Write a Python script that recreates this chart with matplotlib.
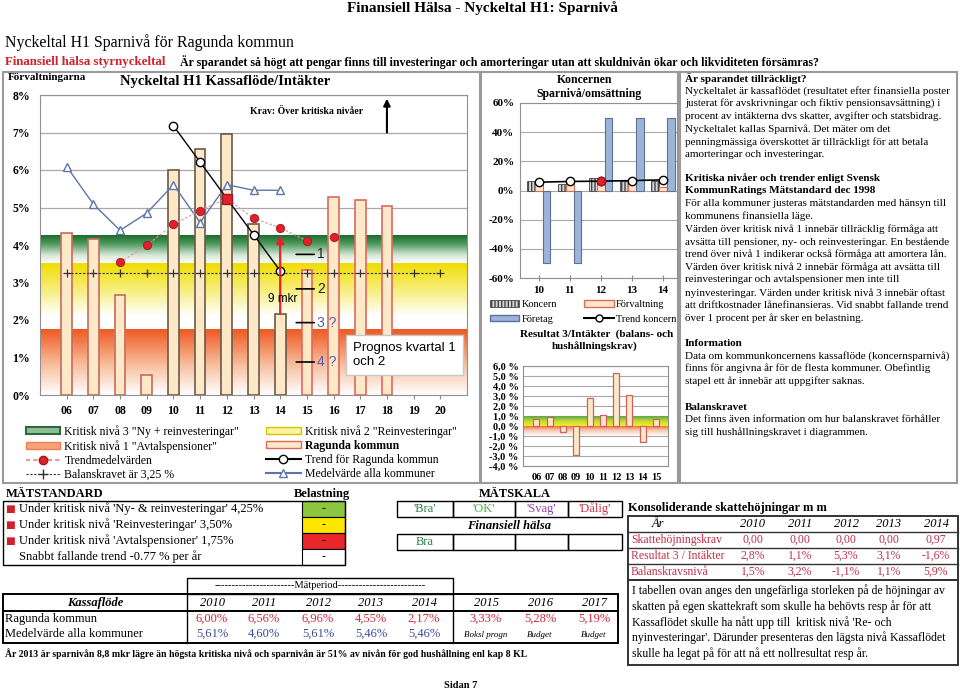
import numpy as np
import matplotlib
matplotlib.use("Agg")
import matplotlib.pyplot as plt
from matplotlib.patches import Rectangle, Patch
from matplotlib.lines import Line2D
from matplotlib.colors import LinearSegmentedColormap

plt.rcParams['font.family'] = ['Liberation Serif', 'DejaVu Sans']
SANS = ['Liberation Sans', 'DejaVu Sans']
W, H = 960, 692

# --- Förvaltningarna: Kassaflöde/Intäkter (%) ---
years = ['06', '07', '08', '09', '10', '11', '12', '13', '14', '15', '16', '17', '18', '19', '20']
ragunda_years = years[:13]
ragunda = [4.33, 4.15, 2.68, 0.53, 6.00, 6.56, 6.96, 4.55, 2.17, 3.33, 5.28, 5.19, 5.05]
ragunda_edge = ['#c86a5e'] * 4 + ['#6b5a48'] * 5 + ['#e0675e'] * 4

trendmed_years = ['08', '09', '10', '11', '12', '13', '14', '15']
trendmed = [3.54, 3.99, 4.55, 4.92, 5.24, 4.71, 4.46, 4.11]
trendmed_extra_year = '16'
trendmed_extra = 4.21
highlight_year = '12'

trend_rag_years = ['10', '11', '12', '13', '14']
trend_rag = [7.18, 6.21, 5.24, 4.28, 3.31]

medel_years = ['06', '07', '08', '09', '10', '11', '12', '13', '14']
medel = [6.09, 5.09, 4.39, 4.85, 5.61, 4.60, 5.61, 5.46, 5.46]

balanskrav = 3.25
niva3, niva2, niva1 = 4.25, 3.50, 1.75
gap_year = '14'

# --- Koncernen: Sparnivå/omsättning (%) ---
k_years = ['10', '11', '12', '13', '14']
koncern = [6.2, 4.5, 8.6, 6.3, 6.3]
forvaltning = [6.00, 6.56, 6.96, 4.55, 2.17]
foretag = [-50, -50, 50, 50, 50]
trend_koncern = [5.7, 6.2, 6.4, 6.8, 7.3]

# --- Resultat 3/Intäkter (%) ---
res_years = ['06', '07', '08', '09', '10', '11', '12', '13', '14', '15']
res = [0.75, 0.95, -0.6, -2.85, 2.8, 1.1, 5.3, 3.1, -1.6, 0.75]

# --- tables ---
mat_rows = ["Under kritisk nivå 'Ny- & reinvesteringar' 4,25%",
            "Under kritisk nivå 'Reinvesteringar' 3,50%",
            "Under kritisk nivå 'Avtalspensioner' 1,75%",
            "Snabbt fallande trend -0.77 % per år"]
belast_colors = ['#8dc63f', '#ffe600', '#e8262b', 'white']
scale_labels = ["'Bra'", "'OK'", "'Svag'", "'Dålig'"]
scale_colors = ['#2e7d4f', '#4caf50', '#8e44ad', '#d0304a']
halsa = ['Bra', '', '', '']

kassa_years = ['2010', '2011', '2012', '2013', '2014', '2015', '2016', '2017']
kassa_rag = ['6,00%', '6,56%', '6,96%', '4,55%', '2,17%', '3,33%', '5,28%', '5,19%']
kassa_med = ['5,61%', '4,60%', '5,61%', '5,46%', '5,46%']
kassa_note = ['Boksl progn', 'Budget', 'Budget']

skatt_years = ['2010', '2011', '2012', '2013', '2014']
skatt_rows = [('Skattehöjningskrav', ['0,00', '0,00', '0,00', '0,00', '0,97']),
              ('Resultat 3 / Intäkter', ['2,8%', '1,1%', '5,3%', '3,1%', '-1,6%']),
              ('Balanskravsnivå', ['1,5%', '3,2%', '-1,1%', '1,1%', '5,9%'])]

info_blocks = [
    ("Är sparandet tillräckligt?", [
        "Nyckeltalet är kassaflödet (resultatet efter finansiella poster",
        "justerat för avskrivningar och fiktiv pensionsavsättning) i",
        "procent av intäkterna dvs skatter, avgifter och statsbidrag.",
        "Nyckeltalet kallas Sparnivå. Det mäter om det",
        "penningmässiga överskottet är tillräckligt för att betala",
        "amorteringar och investeringar."], 78),
    ("Kritiska nivåer och trender enligt Svensk\nKommunRatings Mätstandard dec 1998", [
        "För alla kommuner justeras mätstandarden med hänsyn till",
        "kommunens finansiella läge.",
        "Värden över kritisk nivå 1 innebär tillräcklig förmåga att",
        "avsätta till pensioner, ny- och reinvesteringar. En bestående",
        "trend över nivå 1 indikerar också förmåga att amortera lån.",
        "Värden över kritisk nivå 2 innebär förmåga att avsätta till",
        "reinvesteringar och avtalspensioner men inte till",
        "nyinvesteringar. Värden under kritisk nivå 3 innebär oftast",
        "att driftkostnader lånefinansieras. Vid snabbt fallande trend",
        "över 1 procent per år sker en belastning."], 178),
    ("Information", [
        "Data om kommunkoncernens kassaflöde (koncernsparnivå)",
        "finns för angivna år för de flesta kommuner. Obefintlig",
        "stapel ett år innebär att uppgifter saknas."], 343),
    ("Balanskravet", [
        "Det finns även information om hur balanskravet förhåller",
        "sig till hushållningskravet i diagrammen."], 407),
]
skatt_text = ["I tabellen ovan anges den ungefärliga storleken på de höjningar av",
              "skatten på egen skattekraft som skulle ha behövts resp år för att",
              "Kassaflödet skulle ha nått upp till  kritisk nivå 'Re- och",
              "nyinvesteringar'. Därunder presenteras den lägsta nivå Kassaflödet",
              "skulle ha legat på för att nå ett nollresultat resp år."]


def ax_px(x0, y0, x1, y1):
    return fig.add_axes([x0 / W, 1 - y1 / H, (x1 - x0) / W, (y1 - y0) / H])


def vband(ax, x0, x1, y0, y1, stops):
    cmap = LinearSegmentedColormap.from_list('b', stops)
    ax.imshow(np.linspace(0, 1, 200).reshape(-1, 1), cmap=cmap, origin='lower',
              extent=[x0, x1, y0, y1], aspect='auto', zorder=1, interpolation='bilinear')


fig = plt.figure(figsize=(W / 100, H / 100), dpi=100)

# overlay for page texts and table frames (pixel coordinates)
ov = fig.add_axes([0, 0, 1, 1])
ov.set_xlim(0, W)
ov.set_ylim(H, 0)
ov.axis('off')


def box(x, y, w, h, fc='none', ec='black', lw=1.0):
    ov.add_patch(Rectangle((x, y), w, h, facecolor=fc, edgecolor=ec, lw=lw))


def txt(x, y, s, **kw):
    kw.setdefault('va', 'center')
    kw.setdefault('fontsize', 8.5)
    ov.text(x, y, s, **kw)


txt(482, 8, "Finansiell Hälsa - Nyckeltal H1: Sparnivå", ha='center', fontsize=11, fontweight='bold')
txt(5, 43, "Nyckeltal H1 Sparnivå för Ragunda kommun", fontsize=11.4)
txt(5, 62, "Finansiell hälsa styrnyckeltal", fontsize=9.3, fontweight='bold', color='#d0202a')
txt(180, 62, "Är sparandet så högt att pengar finns till investeringar och amorteringar utan att "
             "skuldnivån ökar och likviditeten försämras?", fontsize=8.6, fontweight='bold')

for x0, w in [(3, 477), (481, 197), (680, 277)]:
    box(x0, 72, w, 411, ec='#9a9a9a', lw=1.5)

txt(8, 78, "Förvaltningarna", fontsize=8, fontweight='bold')
txt(120, 81, "Nyckeltal H1 Kassaflöde/Intäkter", fontsize=10.5, fontweight='bold')
txt(585, 80, "Koncernen", ha='center', fontsize=8.5, fontweight='bold')
txt(589, 94, "Sparnivå/omsättning", ha='center', fontsize=8.5, fontweight='bold')
txt(597, 334, "Resultat 3/Intäkter  (balans- och", ha='center', fontsize=8, fontweight='bold')
txt(595, 347, "hushållningskrav)", ha='center', fontsize=8, fontweight='bold')

# right information panel
for head, lines, y0 in info_blocks:
    y = y0
    for h in head.split('\n'):
        txt(685, y, h, fontsize=8, fontweight='bold')
        y += 12.75
    for ln in lines:
        txt(685, y, ln, fontsize=8)
        y += 12.75

# ---------------- main chart ----------------
ax = ax_px(40, 95, 467, 395)
xpos = {y: i for i, y in enumerate(years)}
vband(ax, -1, 15, niva2, niva3, [(0, 'white'), (0.3, '#d8e8d8'), (0.7, '#4f9a5c'), (1, '#1d6b2e')])
vband(ax, -1, 15, niva1, niva2, [(0, 'white'), (0.2, 'white'), (0.55, '#f8f08a'), (1, '#efdd00')])
vband(ax, -1, 15, 0, niva1, [(0, 'white'), (0.45, '#f8c0a0'), (1, '#ee5a22')])

ax.bar([xpos[y] for y in ragunda_years], ragunda, width=0.4, color='#fde8c8',
       edgecolor=ragunda_edge, lw=1.2, zorder=3)
ax.plot([xpos[y] for y in years], [balanskrav] * len(years), ls=(0, (2, 1.5)), color='#333333',
        lw=0.8, marker='+', ms=6, mew=0.9, zorder=4)
ax.plot([xpos[y] for y in medel_years], medel, color='#5b76a8', lw=1, marker='^', ms=6,
        mfc='white', mec='#5b76a8', zorder=5)
ax.plot([xpos[y] for y in trendmed_years], trendmed, color='#e39aa0', lw=0.9, ls=(0, (2, 1.5)),
        marker='o', ms=6, mfc='#e0202a', mec='#9a1a20', mew=0.6, zorder=6)
ax.plot(xpos[trendmed_extra_year], trendmed_extra, marker='o', ms=6, mfc='#e0202a', mec='#9a1a20',
        mew=0.6, zorder=6)
ax.plot([xpos[y] for y in trend_rag_years], trend_rag, color='black', lw=1, marker='o', ms=6,
        mfc='white', mec='black', zorder=7)
hi = trendmed_years.index(highlight_year)
ax.plot(xpos[highlight_year], trendmed[hi], marker='s', ms=7, mfc='#e0202a', mec='#9a1a20', zorder=8)

gi = ragunda_years.index(gap_year)
ax.annotate('', xy=(xpos[gap_year], niva3), xytext=(xpos[gap_year], ragunda[gi]),
            arrowprops=dict(arrowstyle='-|>', color='#e8202a', lw=1.6, mutation_scale=11,
                            shrinkA=0, shrinkB=0), zorder=9)
ax.text(xpos[gap_year] + 0.1, 2.56, "9 mkr", ha='center', va='center', fontsize=8.5, family=SANS, zorder=9)
ax.annotate('', xy=(12, 7.9), xytext=(12, 7.0),
            arrowprops=dict(arrowstyle='-|>', color='black', lw=1.5, mutation_scale=10,
                            shrinkA=0, shrinkB=0))
ax.text(9, 7.55, "Krav: Över kritiska nivåer", ha='center', va='center', fontsize=7, fontweight='bold')
for lab, yv, col in [('1', 3.75, '#222222'), ('2', 2.83, '#222222'), ('3 ?', 1.93, '#5a5aa8'),
                     ('4 ?', 0.88, '#5a5aa8')]:
    ax.annotate(lab, xy=(8.6, yv), xytext=(9.38, yv), va='center', fontsize=10, family=SANS,
                color=col, arrowprops=dict(arrowstyle='-', color='black', lw=1.2, shrinkA=0, shrinkB=0),
                zorder=9)
ax.text(10.72, 1.07, "Prognos kvartal 1\noch 2", va='center', ha='left', fontsize=9.5, family=SANS,
        linespacing=1.2, zorder=9,
        bbox=dict(boxstyle='square,pad=0.55', fc='white', ec='#c8c8c8', lw=1))

ax.set_xlim(-1, 15)
ax.set_ylim(0, 8)
ax.set_yticks(range(0, 9))
ax.set_yticklabels([f"{v}%" for v in range(0, 9)], fontweight='bold', fontsize=8.5)
ax.set_xticks(range(len(years)))
ax.set_xticklabels(years, fontweight='bold', fontsize=8.5)
ax.tick_params(axis='y', length=0, pad=7)
ax.tick_params(axis='x', direction='inout', length=6, color='#888888', pad=4)
ax.yaxis.grid(True, color='#a8a8a8', lw=0.9)
ax.set_axisbelow(True)
for s in ax.spines.values():
    s.set_color('#909090')

handles = [Patch(facecolor='#8fbf98', edgecolor='#2a6a38', lw=1.5),
           Patch(facecolor='#f6a27a', edgecolor='#f08050', lw=1),
           Line2D([], [], color='#e39aa0', ls=(0, (2, 1.5)), marker='o', ms=6, mfc='#e0202a', mec='#9a1a20'),
           Line2D([], [], color='#333333', ls=(0, (2, 1.5)), lw=0.8, marker='+', ms=7),
           Patch(facecolor='#f7f3a0', edgecolor='#d8c400', lw=1),
           Patch(facecolor='#fde8c8', edgecolor='#e0675e', lw=1),
           Line2D([], [], color='black', marker='o', ms=6, mfc='white', mec='black'),
           Line2D([], [], color='#5b76a8', marker='^', ms=6, mfc='white', mec='#5b76a8')]
labels = ['Kritisk nivå 3 "Ny + reinvesteringar"', 'Kritisk nivå 1 "Avtalspensioner"',
          'Trendmedelvärden', 'Balanskravet är 3,25 %',
          'Kritisk nivå 2 "Reinvesteringar"', 'Ragunda kommun',
          'Trend för Ragunda kommun', 'Medelvärde alla kommuner']
leg = ax.legend(handles, labels, ncol=2, loc='upper left', bbox_to_anchor=(26 / W, 1 - 425 / H),
                bbox_transform=fig.transFigure, frameon=False, fontsize=8.5, handlelength=2.9,
                handleheight=0.6, handletextpad=0.35, columnspacing=2.3, labelspacing=0.18,
                borderpad=0, borderaxespad=0)
leg.get_texts()[5].set_fontweight('bold')

# ---------------- Koncernen ----------------
axk = ax_px(520, 103, 677, 278)
kx = np.arange(len(k_years))
axk.bar(kx - 0.25, koncern, width=0.25, color='#d4d4d4', edgecolor='#454545', hatch='|||||', lw=0.6, zorder=3)
axk.bar(kx, forvaltning, width=0.25, color='#fde8c8', edgecolor='#e0675e', lw=0.8, zorder=3)
axk.bar(kx + 0.25, foretag, width=0.25, color='#9db3d8', edgecolor='#5d7096', lw=0.8, zorder=3)
axk.plot(kx, trend_koncern, color='black', lw=1.2, marker='o', ms=6, mfc='white', mec='black', zorder=5)
ki = k_years.index(highlight_year)
axk.plot(kx[ki], trend_koncern[ki], marker='o', ms=6, mfc='#e0202a', mec='#9a1a20', zorder=6)
axk.set_xlim(-0.6, 4.45)
axk.set_ylim(-60, 60)
axk.set_yticks(range(-60, 61, 20))
axk.set_yticklabels([f"{v}%" for v in range(-60, 61, 20)], fontweight='bold', fontsize=8)
axk.set_xticks(kx)
axk.set_xticklabels(k_years, fontweight='bold', fontsize=8)
axk.tick_params(axis='y', length=0, pad=4)
axk.tick_params(axis='x', direction='inout', length=5, color='#888888', pad=3)
axk.yaxis.grid(True, color='#a8a8a8', lw=0.8)
axk.set_axisbelow(True)
for s in axk.spines.values():
    s.set_color('#909090')
k_handles = [Patch(facecolor='#d4d4d4', edgecolor='#454545', hatch='|||||', lw=0.6),
             Patch(facecolor='#9db3d8', edgecolor='#5d7096'),
             Patch(facecolor='#fde8c8', edgecolor='#e0675e'),
             Line2D([], [], color='black', marker='o', ms=5, mfc='white', mec='black')]
axk.legend(k_handles, ['Koncern', 'Företag', 'Förvaltning', 'Trend koncern'], ncol=2, loc='upper left',
           bbox_to_anchor=(490 / W, 1 - 300 / H), bbox_transform=fig.transFigure, frameon=False,
           fontsize=7.5, handlelength=2.8, handleheight=0.6, handletextpad=0.25, columnspacing=2.6,
           labelspacing=0.55, borderpad=0, borderaxespad=0)

# ---------------- Resultat 3 / Intäkter ----------------
axr = ax_px(523, 366, 668, 466)
rx = np.arange(len(res_years))
vband(axr, -1, 9.9, 0, 1, [(0, '#f6ec20'), (0.5, '#c8d83a'), (1, '#5aa64a')])
vband(axr, -1, 9.9, -1, 0, [(0, 'white'), (0.6, '#f8c6b0'), (1, '#f06a40')])
axr.bar(rx, res, width=0.45, color='#fde8c8', edgecolor='#d0605a', lw=0.9, zorder=3)
axr.set_xlim(-1, 9.9)
axr.set_ylim(-4, 6)
axr.set_yticks(range(-4, 7))
axr.set_yticklabels([f"{v},0 %" for v in range(-4, 7)], fontweight='bold', fontsize=7.5)
axr.set_xticks(rx)
axr.set_xticklabels(res_years, fontweight='bold', fontsize=7.5)
axr.tick_params(axis='y', length=0, pad=3)
axr.tick_params(axis='x', length=0, pad=5)
axr.yaxis.grid(True, color='#a8a8a8', lw=0.8)
axr.set_axisbelow(True)
for s in axr.spines.values():
    s.set_color('#909090')

# ---------------- MÄTSTANDARD ----------------
txt(6, 494, "MÄTSTANDARD", fontsize=9, fontweight='bold')
txt(322, 494, "Belastning", ha='center', fontsize=9, fontweight='bold')
row_h = 16
for i, (s, c) in enumerate(zip(mat_rows, belast_colors)):
    yc = 509 + i * row_h
    box(302, yc - row_h / 2, 43, row_h, fc=c, ec='black', lw=0.8)
    txt(323, yc, '-', ha='center', fontsize=8.5)
    if c != 'white':
        txt(5, yc, '■', color='#d0202a', fontsize=7.5, family=['DejaVu Sans'])
    txt(19, yc, s, fontsize=9)
box(3, 501, 342, 4 * row_h, ec='black', lw=1)

# ---------------- MÄTSKALA ----------------
txt(515, 494, "MÄTSKALA", ha='center', fontsize=9, fontweight='bold')
cells = [397, 453, 515, 568, 622]
for i in range(4):
    box(cells[i], 501, cells[i + 1] - cells[i], 16, ec='black', lw=1)
    txt((cells[i] + cells[i + 1]) / 2, 509, scale_labels[i], ha='center', color=scale_colors[i], fontsize=9)
    box(cells[i], 534, cells[i + 1] - cells[i], 16, ec='black', lw=1)
    txt((cells[i] + cells[i + 1]) / 2, 542, halsa[i], ha='center', color=scale_colors[0], fontsize=9)
txt(509, 526, "Finansiell hälsa", ha='center', fontweight='bold', style='italic', fontsize=9)

# ---------------- Kassaflöde table ----------------
box(187, 578, 266, 16, ec='black', lw=1)
txt(320, 586, "-" * 23 + "Mätperiod" + "-" * 25, ha='center', fontsize=7.5)
box(3, 594, 615, 49, ec='black', lw=1.4)
ov.plot([3, 618], [611, 611], color='black', lw=1.4)
ov.plot([187, 187], [594, 643], color='black', lw=1)
ov.plot([453, 453], [594, 643], color='black', lw=1)
txt(95, 603, "Kassaflöde", ha='center', fontweight='bold', style='italic', fontsize=9)
col_x = [212, 264, 318, 371, 424, 486, 540, 594]
for cx, yr in zip(col_x, kassa_years):
    txt(cx, 603, yr, ha='center', style='italic', fontsize=9)
txt(5, 619, "Ragunda kommun", fontsize=9)
txt(5, 634, "Medelvärde alla kommuner", fontsize=9)
for cx, v in zip(col_x, kassa_rag):
    txt(cx, 619, v, ha='center', fontsize=9, color='#d0283a')
for cx, v in zip(col_x, kassa_med):
    txt(cx, 634, v, ha='center', fontsize=9, color='#3c4c9c')
for cx, v in zip(col_x[5:], kassa_note):
    txt(cx, 635, v, ha='center', fontsize=6.5, style='italic')

txt(5, 654, "År 2013 är sparnivån 8,8 mkr lägre än högsta kritiska nivå och sparnivån är 51% av nivån "
            "för god hushållning enl kap 8 KL", fontsize=7.05, fontweight='bold')
txt(461, 686, "Sidan 7", ha='center', fontsize=7.5, fontweight='bold')

# ---------------- Konsoliderande skattehöjningar ----------------
txt(628, 508, "Konsoliderande skattehöjningar m m", fontsize=9, fontweight='bold')
sk_x = [753, 800, 846, 889, 936]
txt(658, 524, "År", ha='center', style='italic', fontsize=9)
for cx, yr in zip(sk_x, skatt_years):
    txt(cx, 524, yr, ha='center', style='italic', fontsize=9)
for i, (lab, vals) in enumerate(skatt_rows):
    yc = 540 + i * 16
    ov.plot([628, 958], [yc - 8, yc - 8], color='#333333', lw=1)
    txt(631, yc, lab, color='#c0304a', fontsize=8.5)
    for cx, v in zip(sk_x, vals):
        txt(cx, yc, v, ha='center', color='#c0304a', fontsize=8.5)
box(628, 516, 330, 64, ec='#333333', lw=1.4)
box(628, 580, 330, 85, ec='#333333', lw=1.4)
for i, ln in enumerate(skatt_text):
    txt(632, 591 + i * 15.7, ln, fontsize=8.5)

fig.savefig('out.png', dpi=100)
